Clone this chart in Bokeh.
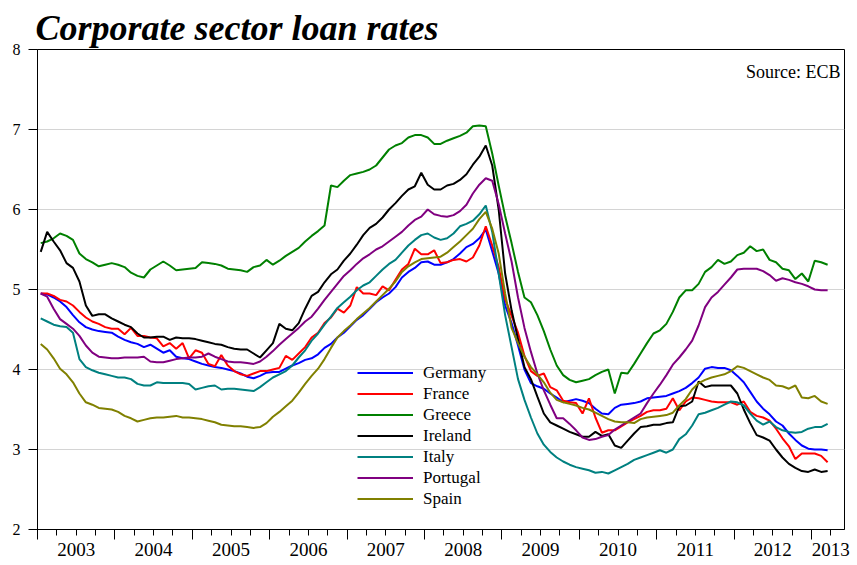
import pandas as pd
from bokeh.plotting import figure
from bokeh.models import (FixedTicker, Range1d, Legend, LegendItem, Label,
                          ColumnDataSource, CustomJSTickFormatter, LinearAxis)
from bokeh.embed import file_html
from bokeh.resources import INLINE

# Monthly observations, Jan 2003 .. Mar 2013
months = pd.date_range("2003-01-01", periods=123, freq="MS")
years = list(range(2003, 2014))

germany = [4.95, 4.94, 4.90, 4.85, 4.78, 4.68, 4.59, 4.53, 4.50, 4.48, 4.47, 4.46,
           4.41, 4.37, 4.34, 4.32, 4.28, 4.31, 4.26, 4.21, 4.24, 4.16, 4.14, 4.13,
           4.10, 4.07, 4.05, 4.03, 4.02, 4.00, 3.98, 3.95, 3.91, 3.89, 3.92, 3.96,
           3.97, 3.97, 4.01, 4.05, 4.08, 4.12, 4.14, 4.19, 4.27, 4.32, 4.40, 4.46,
           4.54, 4.62, 4.68, 4.76, 4.84, 4.90, 4.95, 5.03, 5.15, 5.22, 5.27, 5.34,
           5.35, 5.31, 5.31, 5.34, 5.38, 5.45, 5.53, 5.57, 5.64, 5.75, 5.48, 5.20,
           4.80, 4.58, 4.30, 4.00, 3.83, 3.79, 3.76, 3.70, 3.65, 3.59, 3.61, 3.63,
           3.61, 3.58, 3.51, 3.45, 3.44, 3.52, 3.56, 3.57, 3.58, 3.60, 3.64, 3.65,
           3.66, 3.67, 3.70, 3.73, 3.77, 3.83, 3.90, 4.01, 4.03, 4.02, 4.02, 3.99,
           3.92, 3.84, 3.72, 3.60, 3.51, 3.44, 3.35, 3.30, 3.20, 3.12, 3.05, 3.01,
           3.00, 3.00, 2.99]

france = [4.95, 4.95, 4.92, 4.87, 4.85, 4.80, 4.72, 4.65, 4.60, 4.57, 4.53, 4.51,
          4.51, 4.44, 4.52, 4.42, 4.42, 4.40, 4.39, 4.29, 4.33, 4.26, 4.33, 4.14,
          4.24, 4.21, 4.07, 4.04, 4.18, 4.05, 3.98, 3.94, 3.92, 3.95, 3.98, 3.98,
          4.00, 4.02, 4.17, 4.12, 4.20, 4.28, 4.40, 4.46, 4.58, 4.65, 4.76, 4.71,
          4.80, 5.03, 4.95, 4.95, 4.93, 5.04, 4.99, 5.12, 5.25, 5.32, 5.51, 5.44,
          5.44, 5.49, 5.33, 5.34, 5.37, 5.38, 5.35, 5.40, 5.55, 5.79, 5.55, 5.28,
          4.88, 4.67, 4.46, 4.17, 3.98, 3.92, 3.95, 3.78, 3.74, 3.61, 3.59, 3.58,
          3.45, 3.64, 3.40, 3.21, 3.24, 3.24, 3.29, 3.34, 3.38, 3.42, 3.47, 3.49,
          3.49, 3.51, 3.64, 3.49, 3.60, 3.65, 3.64, 3.62, 3.60, 3.59, 3.59, 3.59,
          3.56, 3.60, 3.47, 3.42, 3.40, 3.36, 3.26, 3.14, 3.04, 2.88, 2.95, 2.95,
          2.95, 2.92, 2.84]

greece = [5.58, 5.60, 5.64, 5.70, 5.67, 5.62, 5.45, 5.38, 5.34, 5.29, 5.31, 5.33,
          5.31, 5.28, 5.21, 5.17, 5.15, 5.25, 5.30, 5.35, 5.30, 5.24, 5.25, 5.26,
          5.27, 5.34, 5.33, 5.32, 5.30, 5.26, 5.25, 5.24, 5.22, 5.28, 5.30, 5.37,
          5.31, 5.36, 5.42, 5.47, 5.52, 5.60, 5.67, 5.73, 5.80, 6.30, 6.28, 6.36,
          6.43, 6.45, 6.47, 6.50, 6.55, 6.65, 6.75, 6.80, 6.83, 6.90, 6.93, 6.93,
          6.90, 6.82, 6.82, 6.86, 6.89, 6.92, 6.96, 7.04, 7.05, 7.04, 6.70, 6.30,
          5.92, 5.58, 5.22, 4.90, 4.84, 4.68, 4.48, 4.25, 4.05, 3.93, 3.87, 3.84,
          3.86, 3.88, 3.93, 3.97, 4.00, 3.70, 3.96, 3.95, 4.07, 4.20, 4.33, 4.45,
          4.49, 4.57, 4.72, 4.90, 4.99, 4.99, 5.07, 5.22, 5.28, 5.37, 5.32, 5.35,
          5.43, 5.46, 5.54, 5.48, 5.50, 5.37, 5.34, 5.26, 5.24, 5.13, 5.20, 5.10,
          5.36, 5.34, 5.31]

ireland = [5.47, 5.72, 5.60, 5.49, 5.33, 5.27, 5.10, 4.80, 4.67, 4.69, 4.69, 4.64,
           4.60, 4.56, 4.53, 4.45, 4.40, 4.40, 4.41, 4.41, 4.37, 4.40, 4.39, 4.39,
           4.38, 4.36, 4.34, 4.32, 4.31, 4.28, 4.26, 4.25, 4.25, 4.20, 4.15, 4.24,
           4.33, 4.57, 4.51, 4.49, 4.58, 4.76, 4.92, 4.97, 5.09, 5.19, 5.25, 5.36,
           5.45, 5.56, 5.68, 5.77, 5.82, 5.90, 6.00, 6.08, 6.17, 6.25, 6.29, 6.46,
           6.31, 6.25, 6.25, 6.30, 6.32, 6.37, 6.44, 6.56, 6.66, 6.80, 6.55, 6.00,
           5.20, 4.74, 4.38, 4.03, 3.88, 3.66, 3.45, 3.34, 3.30, 3.26, 3.22, 3.19,
           3.16, 3.16, 3.22, 3.17, 3.19, 3.05, 3.02, 3.11, 3.20, 3.28, 3.29, 3.31,
           3.31, 3.33, 3.34, 3.54, 3.55, 3.60, 3.85, 3.78, 3.80, 3.80, 3.80, 3.80,
           3.70, 3.50, 3.33, 3.18, 3.15, 3.11, 3.00, 2.90, 2.82, 2.77, 2.73, 2.72,
           2.75, 2.72, 2.73]

italy = [4.64, 4.60, 4.56, 4.54, 4.53, 4.46, 4.13, 4.03, 3.99, 3.96, 3.94, 3.92,
         3.90, 3.90, 3.88, 3.82, 3.80, 3.80, 3.84, 3.83, 3.83, 3.83, 3.83, 3.82,
         3.75, 3.77, 3.79, 3.80, 3.75, 3.76, 3.76, 3.75, 3.74, 3.73, 3.78, 3.84,
         3.90, 3.94, 3.98, 4.05, 4.15, 4.24, 4.36, 4.45, 4.56, 4.66, 4.77, 4.84,
         4.91, 4.99, 5.05, 5.09, 5.17, 5.25, 5.32, 5.37, 5.46, 5.55, 5.62, 5.68,
         5.70, 5.65, 5.62, 5.64, 5.70, 5.79, 5.82, 5.86, 5.94, 6.05, 5.72, 5.20,
         4.68, 4.28, 3.88, 3.62, 3.40, 3.20, 3.06, 2.97, 2.90, 2.85, 2.81, 2.78,
         2.76, 2.74, 2.71, 2.72, 2.70, 2.74, 2.78, 2.82, 2.87, 2.90, 2.93, 2.96,
         2.99, 2.96, 3.00, 3.13, 3.19, 3.30, 3.44, 3.46, 3.49, 3.52, 3.56, 3.60,
         3.59, 3.55, 3.45, 3.36, 3.31, 3.35, 3.28, 3.24, 3.22, 3.21, 3.22, 3.26,
         3.28, 3.28, 3.32]

portugal = [4.95, 4.91, 4.76, 4.63, 4.57, 4.51, 4.42, 4.30, 4.21, 4.16, 4.15, 4.14,
            4.14, 4.15, 4.15, 4.15, 4.16, 4.10, 4.09, 4.09, 4.11, 4.13, 4.14, 4.15,
            4.15, 4.16, 4.20, 4.16, 4.13, 4.10, 4.09, 4.09, 4.08, 4.07, 4.10, 4.16,
            4.23, 4.31, 4.38, 4.45, 4.52, 4.60, 4.66, 4.76, 4.87, 4.97, 5.07, 5.17,
            5.24, 5.32, 5.39, 5.44, 5.50, 5.54, 5.60, 5.66, 5.72, 5.80, 5.87, 5.91,
            6.00, 5.94, 5.92, 5.91, 5.93, 5.98, 6.06, 6.20, 6.31, 6.39, 6.36, 6.07,
            5.70, 5.35, 4.90, 4.52, 4.22, 3.95, 3.74, 3.56, 3.39, 3.39, 3.32, 3.24,
            3.15, 3.12, 3.13, 3.16, 3.18, 3.25, 3.30, 3.35, 3.40, 3.45, 3.58, 3.70,
            3.81, 3.93, 4.06, 4.15, 4.25, 4.36, 4.55, 4.78, 4.90, 4.97, 5.06, 5.15,
            5.25, 5.26, 5.26, 5.26, 5.23, 5.18, 5.11, 5.14, 5.12, 5.09, 5.07, 5.04,
            5.00, 4.99, 4.99]

spain = [4.32, 4.25, 4.14, 4.01, 3.94, 3.84, 3.70, 3.59, 3.56, 3.52, 3.51, 3.50,
         3.47, 3.42, 3.39, 3.35, 3.37, 3.39, 3.40, 3.40, 3.41, 3.42, 3.40, 3.40,
         3.39, 3.38, 3.36, 3.34, 3.31, 3.30, 3.29, 3.29, 3.28, 3.27, 3.28, 3.33,
         3.41, 3.47, 3.54, 3.61, 3.71, 3.82, 3.92, 4.01, 4.13, 4.27, 4.40, 4.48,
         4.55, 4.63, 4.70, 4.77, 4.85, 4.93, 5.01, 5.10, 5.22, 5.29, 5.34, 5.38,
         5.39, 5.40, 5.41, 5.46, 5.53, 5.60, 5.68, 5.76, 5.88, 5.97, 5.76, 5.45,
         4.95, 4.52, 4.33, 4.16, 4.03, 3.94, 3.84, 3.71, 3.62, 3.59, 3.57, 3.55,
         3.52, 3.50, 3.46, 3.42, 3.38, 3.35, 3.34, 3.34, 3.33, 3.38, 3.40, 3.41,
         3.42, 3.43, 3.46, 3.55, 3.63, 3.75, 3.83, 3.87, 3.90, 3.92, 3.94, 3.98,
         4.04, 4.02, 3.98, 3.94, 3.90, 3.87, 3.80, 3.79, 3.76, 3.80, 3.65, 3.64,
         3.67, 3.60, 3.57]

series = [("Germany", germany, "#0000ff"),
          ("France", france, "#ff0000"),
          ("Greece", greece, "#008000"),
          ("Ireland", ireland, "#000000"),
          ("Italy", italy, "#008080"),
          ("Portugal", portugal, "#800080"),
          ("Spain", spain, "#808000")]

for name, vals, _ in series:
    assert len(vals) == len(months), (name, len(vals))

xdec = (months.year + (months.month - 0.5) / 12.0).to_numpy()
src = ColumnDataSource(dict(x=xdec, **{n: v for n, v, _ in series}))

FONT = "Liberation Serif"
W, H = 857, 565
LEFT, RIGHT, TOP, BOTTOM = 37, 13, 49, 36
frame_w = W - LEFT - RIGHT
x_end = 2003 + frame_w / 77.4

p = figure(width=W, height=H, output_backend="svg", toolbar_location=None,
           x_range=Range1d(2003.0, x_end), y_range=Range1d(2, 8),
           min_border_left=LEFT, min_border_right=RIGHT, min_border_top=TOP,
           min_border_bottom=BOTTOM, background_fill_color="white",
           border_fill_color="white")

p.title.text = "Corporate sector loan rates"
p.title.text_font = FONT
p.title.text_font_style = "bold italic"
p.title.text_font_size = "36px"
p.title.align = "left"
p.title.standoff = 4
p.title.offset = -2
p.title.text_color = "black"

p.outline_line_color = "black"
p.outline_line_width = 1

# x axis 1: year-boundary ticks (long) and quarter ticks (short), no labels
boundaries = years
quarters = [years[0] + 0.25 * k for k in range(4 * (len(years) - 1) + 2)]
xa = p.xaxis[0]
xa.ticker = FixedTicker(ticks=boundaries, minor_ticks=quarters)
xa.formatter = CustomJSTickFormatter(code="return ''")
xa.major_tick_out = 10
xa.major_tick_in = 0
xa.major_tick_line_color = "black"
xa.minor_tick_out = 6
xa.minor_tick_in = 0
xa.minor_tick_line_color = "black"
xa.axis_line_color = "black"
xa.major_label_standoff = 0
xa.major_label_text_font_size = "1px"

# x axis 2: year labels centred inside each year
mids = [y + 0.5 for y in years[:-1]] + [years[-1] + 0.25]
xl = LinearAxis(ticker=FixedTicker(ticks=mids, minor_ticks=[]),
                formatter=CustomJSTickFormatter(code="return Math.floor(tick).toString()"),
                axis_line_color=None, major_tick_line_color=None,
                minor_tick_line_color=None, major_tick_out=0, major_tick_in=0,
                minor_tick_out=0, minor_tick_in=0, major_label_standoff=3,
                major_label_text_font=FONT, major_label_text_font_size="19px",
                major_label_text_color="black")
p.add_layout(xl, "below")

ya = p.yaxis[0]
ya.ticker = FixedTicker(ticks=[2, 3, 4, 5, 6, 7, 8], minor_ticks=[])
ya.major_tick_out = 9
ya.major_tick_in = 0
ya.major_tick_line_color = "black"
ya.minor_tick_line_color = None
ya.axis_line_color = "black"
ya.major_label_standoff = 8
ya.major_label_text_font = FONT
ya.major_label_text_font_size = "16px"
ya.major_label_text_color = "black"

p.xgrid.visible = False
p.ygrid.ticker = FixedTicker(ticks=[3, 4, 5, 6, 7])
p.ygrid.grid_line_color = "#d4d4d4"
p.ygrid.grid_line_width = 1

items = []
for name, vals, color in series:
    r = p.line("x", name, source=src, line_color=color, line_width=2)
    items.append(LegendItem(label=name, renderers=[r]))

# location = bottom-left corner of the legend, px from the frame's bottom-left
legend = Legend(items=items, location=(320, 20), orientation="vertical",
                glyph_width=56, glyph_height=21, label_height=21, spacing=0,
                padding=0, margin=0, label_standoff=10,
                background_fill_alpha=0, border_line_alpha=0,
                label_text_font=FONT, label_text_font_size="17px",
                label_text_color="black")
p.add_layout(legend)

p.add_layout(Label(x=frame_w - 4, y=458, x_units="screen", y_units="screen",
                   text="Source: ECB", text_align="right",
                   text_baseline="alphabetic", text_font=FONT,
                   text_font_size="18px", text_color="black"))

open("out.html", "w").write(file_html(p, INLINE))
